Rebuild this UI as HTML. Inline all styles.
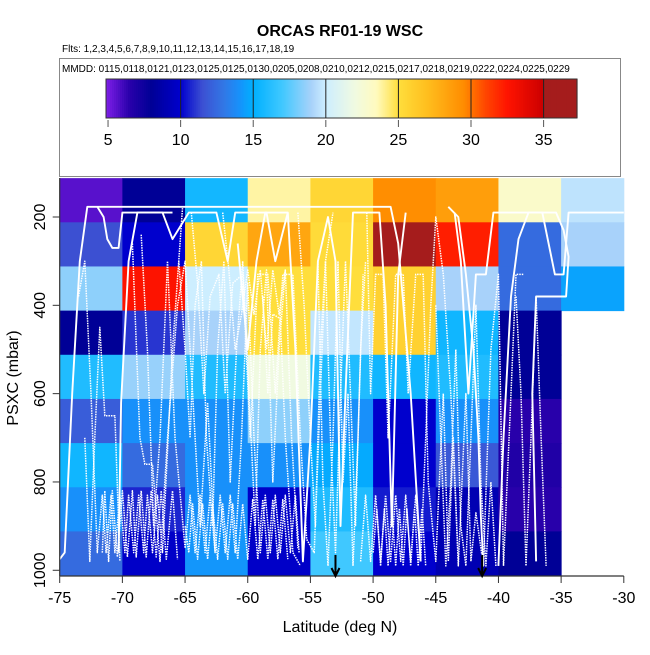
<!DOCTYPE html>
<html><head><meta charset="utf-8"><style>
body{margin:0;background:#fff;}
svg text{font-family:"Liberation Sans",Arial,sans-serif;}
</style></head><body>
<svg id="chart" width="650" height="650" viewBox="0 0 650 650" xmlns="http://www.w3.org/2000/svg">
<text x="340" y="36" font-size="16" font-weight="bold" text-anchor="middle">ORCAS RF01-19 WSC</text>
<text x="62" y="52" font-size="10">Flts: 1,2,3,4,5,6,7,8,9,10,11,12,13,14,15,16,17,18,19</text>
<rect x="59.5" y="58.5" width="561" height="118" fill="none" stroke="#888" stroke-width="1"/>
<text x="62" y="72" font-size="10">MMDD: 0115,0118,0121,0123,0125,0125,0130,0205,0208,0210,0212,0215,0217,0218,0219,0222,0224,0225,0229</text>
<g id="colorbar"></g>
<g id="cells"></g>
<g id="tracks"></g>
<g id="axes"></g>
<text x="340" y="632" font-size="16" text-anchor="middle">Latitude (deg N)</text>
<text transform="translate(18,378) rotate(-90)" font-size="16" text-anchor="middle">PSXC (mbar)</text>
</svg>
<script>
const latEdges=[-75,-70,-65,-60,-55,-50,-45,-40,-35,-30];
const presEdges=[112,212,312,412,512,612,712,812,912,1012];
// rows top to bottom; null = no data
const wscValues=[
 [5.6,8.0,15.6,23.8,25.5,29.4,28.6,23.0,19.6],
 [11.5,10.0,25.5,28.2,25.2,36.0,32.2,12.5,19.0],
 [18.5,32.6,20.0,25.0,25.0,25.8,19.0,12.5,14.6],
 [8.0,11.0,19.0,25.0,19.7,25.8,15.5,8.0,null],
 [16.0,18.7,16.0,22.0,16.0,15.5,16.0,8.0,null],
 [12.0,14.0,14.0,18.5,14.0,10.0,14.0,6.5,null],
 [15.5,12.5,14.0,14.0,14.8,10.0,11.8,6.8,null],
 [14.0,10.7,14.0,9.8,16.0,10.5,9.0,6.5,null],
 [12.5,9.8,14.2,9.8,17.0,10.0,9.0,8.0,null]
];
const xTicks=[-75,-70,-65,-60,-55,-50,-45,-40,-35,-30];
const yTicks=[200,400,600,800,1000];
const cbTicks=[5,10,15,20,25,30,35];
const cbMin=4.86, cbMax=37.3;
const arrowLats=[-53,-41.3];
// flight tracks: [lat, pressure, ...]
const tracks=[
 {dot:0,p:[-75,975,-74.6,960,-74,600,-73.4,300,-72.8,177,-48.6,177,-48,260,-47,600,-46.2,980]},
 {dot:0,p:[-72,177,-71.5,200,-71.2,250,-70.8,270,-70.3,270,-70,190,-66,190]},
 {dot:1,p:[-73.5,380,-73,300,-72.5,600,-72,960,-71.6,830,-71.3,960,-70.9,830,-70.6,960,-70.2,830,-69.8,960,-69.5,830,-69.1,960,-68.7,830,-68.3,960,-68,830,-67.6,960,-67.2,830,-66.8,960,-66,500,-65.2,180]},
 {dot:1,p:[-71.6,960,-71.4,820,-71.1,980,-70.8,820,-70.4,970,-70,820,-69.6,970,-69.2,820,-68.9,970,-68.5,820,-68.1,970,-67.7,820,-67.3,970,-66.9,820,-66.5,975,-66,820,-65.6,975]},
 {dot:0,p:[-70.3,960,-70.1,620,-69.5,300,-68.8,190,-66.8,190,-66,250,-64.7,190,-62.5,190,-61.6,300,-61,190,-58.5,190,-57.8,300,-56.8,190]},
 {dot:1,p:[-68.5,240,-68,500,-67.5,900,-67,700,-66.4,300,-65.8,700,-65,950,-64.6,830,-64.2,960,-63.8,830,-63.4,960,-63,830,-62.6,960,-62.2,830,-61.8,960,-61.4,830,-61,960,-60.5,700,-60,350,-59.5,700,-59,960,-58.6,830,-58.2,960,-57.8,830,-57.4,960,-57,830,-56.6,960,-56.2,830,-55.9,960]},
 {dot:1,p:[-65,900,-64.7,960,-64.4,850,-64,975,-63.6,850,-63.2,975,-62.8,850,-62.4,975,-62,850,-61.6,975,-61.2,850,-60.8,975,-60.4,850,-60,975,-59.6,840,-59.2,975,-58.8,840,-58.4,975,-58,840,-57.6,975,-57.2,840,-56.8,975]},
 {dot:1,p:[-64.5,190,-64,350,-63.5,600,-63,380,-62.3,330,-61.8,600,-61.2,350,-60.4,330,-59.8,700,-59.2,330,-58.4,330,-57.8,600,-57.2,330,-56.4,330,-55.8,700,-55.3,930,-54.7,960,-54.2,600,-53.8,300,-53.2,190]},
 {dot:1,p:[-65.5,300,-65,500,-64.6,700,-64.2,400,-63.7,300,-63.3,700,-62.8,900,-62.4,500,-61.9,300,-61.4,800,-60.9,500,-60.4,300,-59.9,600,-59.4,900,-59,500,-58.5,320,-58,800,-57.5,500,-57,320,-56.5,700,-56,950]},
 {dot:0,p:[-60.8,260,-60,500,-59.3,300,-58.6,190,-56.8,190,-56.2,500,-55.6,980,-55,700,-54.4,300,-53.6,200,-53,300,-52.6,900,-52.2,600,-51.6,190,-49.5,190,-49,400,-48.5,900,-48,330,-47.4,190]},
 {dot:1,p:[-56,190,-55.5,400,-55,700,-54.6,900,-54.2,500,-53.8,300,-53.4,700,-53,960,-52.6,600,-52.2,300,-51.8,600,-51.4,900,-51,500,-50.6,300]},
 {dot:1,p:[-51,980,-50.6,830,-50.2,980,-49.8,830,-49.4,980,-49,830,-48.6,980,-48.2,830,-47.8,980,-47.4,830,-47,980,-46.6,830,-46.2,980,-45.8,700,-45.4,400,-45,200,-44.4,330,-43.8,600,-43.2,980]},
 {dot:1,p:[-50,960,-49.7,860,-49.4,990,-49.1,860,-48.8,990,-48.5,860,-48.2,990,-47.9,860,-47.6,990,-47.3,860,-47,990,-46.7,860,-46.4,990,-46.1,860,-45.8,990]},
 {dot:1,p:[-50.5,190,-50.2,600,-49.8,330,-49.2,330,-48.8,700,-48.2,330,-47.6,330,-47.2,600,-46.6,330,-46,330,-45.6,800,-45,980,-44.4,600,-44,980,-43.6,700,-43.2,990,-42.6,600,-42.2,980,-41.8,870,-41.2,990,-40.6,500,-40,330,-39.6,990,-39,600,-38.6,330,-38,330]},
 {dot:1,p:[-45,400,-44.6,700,-44.2,990,-43.8,800,-43.4,500,-43,900,-42.6,990,-42.2,700,-41.8,400,-41.4,800,-41,990,-40.6,800,-40.2,990]},
 {dot:0,p:[-43.5,190,-43,300,-42.4,600,-41.8,330,-41,330,-40.4,190,-36.5,190,-36,260,-35.5,330,-34.8,330,-34.4,190,-30,190]},
 {dot:0,p:[-44,177,-43.2,200,-42.6,330,-42,500,-41.6,700,-41.4,880,-41.2,990]},
 {dot:0,p:[-40,990,-39.6,700,-39,380,-38.4,250,-37.6,190,-35.4,190,-34.8,230,-34.4,290,-34.6,380,-37,380,-37.3,600,-37,980]},
 {dot:1,p:[-38.6,380,-38.2,600,-37.8,990,-37.4,700,-37,380,-36.6,700,-36.2,990]},
 {dot:1,p:[-73,700,-72.6,980,-72.2,700,-71.8,450,-71.4,650,-70.6,650,-70.2,980]},
 {dot:1,p:[-69.2,260,-68.6,700,-68.2,760,-67.6,760,-67,980,-66.4,700,-65.6,400,-65,300,-64.4,600,-63.8,900,-63.2,620,-62.6,960]},
 {dot:1,p:[-58.8,380,-58.4,600,-58,420,-57.4,430,-57,700,-56.4,960,-55.8,990]},
 {dot:1,p:[-54.4,300,-54,800,-53.6,990,-53.2,700,-52.8,300,-52.4,800,-52,600,-51.6,990,-51.2,700,-50.8,330]},
 {dot:1,p:[-62,190,-61.5,320,-61,500,-60.5,420,-60,320,-59.5,420,-59,320,-58.5,500,-58,320,-57.5,420,-57,320]}
];
const NS='http://www.w3.org/2000/svg';
const X0=59.7,X1=623.8,Ytop=178,Ybot=576;
function xs(lat){return X0+(lat+75)*(X1-X0)/45;}
function ys(p){return 217+(p-200)*0.4416;}
const stops=[[4.86,[127,31,232]],[6.5,[40,0,170]],[8,[0,0,150]],[10,[0,0,205]],[11.5,[60,80,210]],[13,[50,120,230]],[14,[24,144,250]],[15,[0,176,255]],[17,[64,200,255]],[19,[168,210,250]],[20,[205,238,255]],[22,[240,250,225]],[23.5,[255,250,190]],[25,[255,222,60]],[27,[255,190,30]],[29.5,[255,140,0]],[31,[255,70,0]],[32.5,[255,20,0]],[34.9,[205,0,0]],[35,[165,28,28]],[37.3,[165,28,28]]];
function cmap(v){
 for(let i=0;i<stops.length-1;i++){const a=stops[i],b=stops[i+1];
  if(v<=b[0]){const t=Math.max(0,(v-a[0])/(b[0]-a[0]));const c=a[1].map((x,k)=>Math.round(x+(b[1][k]-x)*t));return `rgb(${c})`;}}
 return 'rgb(165,28,28)';}
function el(tag,attrs,parent){const e=document.createElementNS(NS,tag);for(const k in attrs)e.setAttribute(k,attrs[k]);parent.appendChild(e);return e;}
const cb=document.getElementById('colorbar');
const cbX0=106,cbX1=577,cbY0=79,cbY1=118;
function cbx(v){return cbX0+(v-cbMin)*(cbX1-cbX0)/(cbMax-cbMin);}
for(let i=0;i<235;i++){const v0=cbMin+(cbMax-cbMin)*i/235,v1=cbMin+(cbMax-cbMin)*(i+1)/235;
 const r=el('rect',{x:cbx(v0),y:cbY0,width:cbx(v1)-cbx(v0)+0.6,height:cbY1-cbY0,fill:cmap((v0+v1)/2)},cb);
 
 }
const cbb=el('rect',{x:cbX0,y:cbY0,width:cbX1-cbX0,height:cbY1-cbY0,fill:'none',stroke:'#333','stroke-width':1},cb);


cbTicks.forEach(v=>{
 if(v>5){const l=el('line',{x1:cbx(v),x2:cbx(v),y1:cbY0,y2:cbY1,stroke:'#222','stroke-width':1},cb);
 
 }
 const t=el('line',{x1:cbx(v),x2:cbx(v),y1:cbY1+2,y2:cbY1+9,stroke:'#555','stroke-width':1},cb);
 
 
 const tx=el('text',{x:cbx(v),y:145,'font-size':16,'text-anchor':'middle'},cb);tx.textContent=v;
 
 
});
const cg=document.getElementById('cells');
wscValues.forEach((row,r)=>row.forEach((v,c)=>{
 if(v===null)return;
 const y0=Math.max(Ytop,ys(presEdges[r]));const y1=Math.min(Ybot,ys(presEdges[r+1]));
 const x0=xs(latEdges[c]),x1=xs(latEdges[c+1]);
 const rc=el('rect',{x:x0,y:y0,width:x1-x0+0.5,height:y1-y0+0.5,fill:cmap(v)},cg);
 
 
}));
const tg=document.getElementById('tracks');
tracks.forEach(t=>{
 let d='';for(let i=0;i<t.p.length;i+=2){d+=(i?'L':'M')+xs(t.p[i]).toFixed(1)+','+ys(t.p[i+1]).toFixed(1);}
 const a={d:d,fill:'none',stroke:'#fff','stroke-width':t.dot?1.5:1.9,'stroke-linejoin':'round'};
 if(t.dot)a['stroke-dasharray']='1.5 1';
 const p=el('path',a,tg);
 
 
});
const ag=document.getElementById('axes');
const xl=el('line',{x1:X0,x2:X1,y1:Ybot,y2:Ybot,stroke:'#333','stroke-width':1.2},ag);


const yl=el('line',{x1:X0,x2:X0,y1:Ytop,y2:Ybot,stroke:'#333','stroke-width':1.2},ag);


xTicks.forEach(v=>{
 const l=el('line',{x1:xs(v),x2:xs(v),y1:Ybot,y2:Ybot+7,stroke:'#333','stroke-width':1},ag);
 
 
 const t=el('text',{x:xs(v),y:603,'font-size':16,'text-anchor':'middle'},ag);t.textContent=v;
 
 
});
yTicks.forEach(v=>{
 const l=el('line',{x1:X0-7,x2:X0,y1:ys(v),y2:ys(v),stroke:'#333','stroke-width':1},ag);
 
 
 const t=el('text',{transform:`translate(45,${ys(v)}) rotate(-90)`,'font-size':16,'text-anchor':'middle'},ag);t.textContent=v;
 
 
});
arrowLats.forEach(v=>{
 const x=xs(v);
 const a=el('path',{d:`M${x},555L${x},576M${x-4},568L${x},576L${x+4},568`,stroke:'#000','stroke-width':2,fill:'none'},ag);
 
 
});
</script>
</body></html>
